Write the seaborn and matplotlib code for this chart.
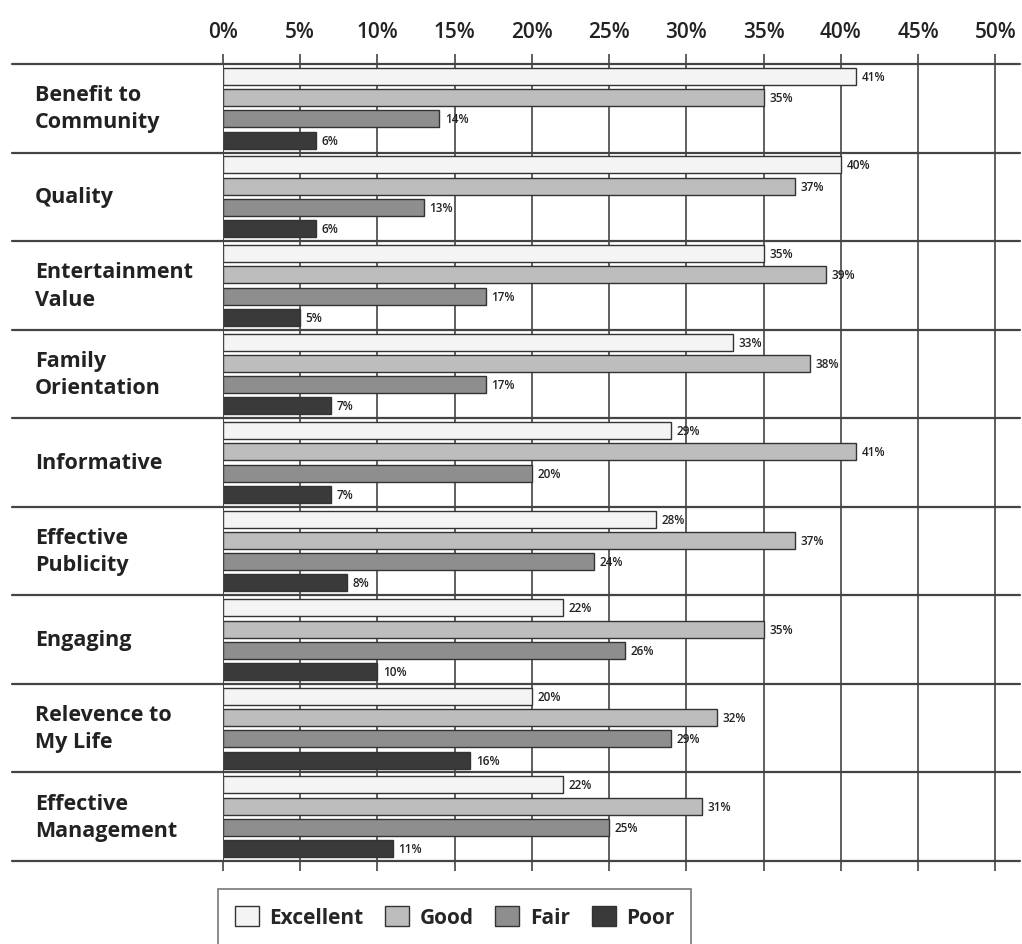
import pandas as pd
import numpy as np
import matplotlib.pyplot as plt
import seaborn as sns

# Data
categories = ['Benefit to\nCommunity', 'Quality', 'Entertainment\nValue', 'Family\nOrientation',
              'Informative', 'Effective\nPublicity', 'Engaging', 'Relevence to\nMy Life',
              'Effective\nManagement']
ratings = ['Excellent', 'Good', 'Fair', 'Poor']
excellent = [41, 40, 35, 33, 29, 28, 22, 20, 22]
good = [35, 37, 39, 38, 41, 37, 35, 32, 31]
fair = [14, 13, 17, 17, 20, 24, 26, 29, 25]
poor = [6, 6, 5, 7, 7, 8, 10, 16, 11]
x_ticks = [0, 5, 10, 15, 20, 25, 30, 35, 40, 45, 50]

colors = ['#f4f4f4', '#bdbdbd', '#8e8e8e', '#3a3a3a']

rows = []
for r, vals in zip(ratings, [excellent, good, fair, poor]):
    for c, v in zip(categories, vals):
        rows.append({'category': c, 'rating': r, 'value': v})
df = pd.DataFrame(rows)

sns.set_style('white')
plt.rcParams['font.family'] = ['Open Sans', 'DejaVu Sans']

fig = plt.figure(figsize=(10.22, 9.45), dpi=100)
ax = fig.add_axes([0.2182, 0.0878, 0.78, 0.8434])

sns.barplot(data=df, y='category', x='value', hue='rating', orient='h',
            palette=colors, width=0.96, gap=0.2, edgecolor='#333333',
            linewidth=1.0, ax=ax, legend=True, zorder=3)

ax.set_xlim(0, 51.6)
ax.set_ylim(len(categories) - 0.5, -0.5)
ax.set_xlabel('')
ax.set_ylabel('')
for s in ax.spines.values():
    s.set_visible(False)

# x ticks on top, vertical grid lines
ax.set_xticks(x_ticks)
ax.set_xticklabels([f'{t}%' for t in x_ticks], fontsize=15, fontweight='semibold', color='#222222')
ax.xaxis.tick_top()
ax.tick_params(axis='x', top=True, bottom=True, direction='out', length=7,
               width=1.2, color='#444444', pad=9)
ax.set_yticks([])
for t in x_ticks:
    ax.axvline(t, color='#444444', lw=1.2, zorder=1)
ax.axvline(0, color='#444444', lw=1.4, zorder=5)

# horizontal separators extending into label area
for y in np.arange(-0.5, len(categories), 1.0):
    ax.plot([-0.265, 1.0], [y, y], transform=ax.get_yaxis_transform(),
            color='#444444', lw=1.6, clip_on=False, zorder=2)

# category labels
for i, c in enumerate(categories):
    ax.text(-0.236, i, c, transform=ax.get_yaxis_transform(), ha='left', va='center',
            fontsize=15.5, fontweight='bold', color='#222222', linespacing=1.4)

# value labels
for cont in ax.containers:
    ax.bar_label(cont, labels=[f'{int(v)}%' for v in cont.datavalues], padding=4,
                 fontsize=8.5, fontweight='semibold', color='#222222')

# legend
handles, labels = ax.get_legend_handles_labels()
ax.legend_.remove()
leg = fig.legend(handles, labels, loc='upper left', bbox_to_anchor=(218 / 1022, 1 - 890 / 945),
                 ncol=4, frameon=True, fancybox=False, edgecolor='#555555',
                 handlelength=1.15, handleheight=1.15, columnspacing=1.05, handletextpad=0.5,
                 borderpad=0.8, borderaxespad=0, prop={'weight': 'bold', 'size': 15})
leg.get_frame().set_linewidth(1.2)

fig.savefig('out.png', dpi=100)
